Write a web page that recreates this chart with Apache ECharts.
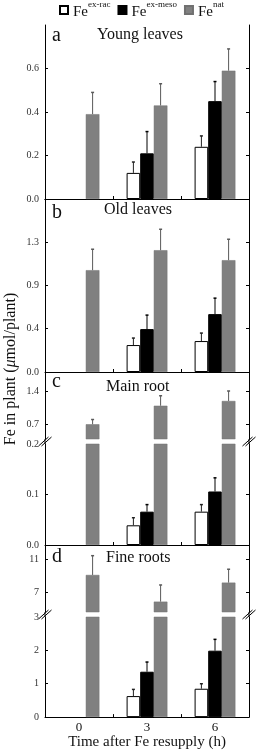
<!DOCTYPE html>
<html><head><meta charset="utf-8">
<script src="https://cdn.jsdelivr.net/npm/echarts@6/dist/echarts.min.js"></script>
<style>html,body{margin:0;padding:0;background:#fff}#c{width:257px;height:751px}</style>
</head><body><div id="c"></div>
<script>
// ---------- data ----------
const categories = ['0', '3', '6'];
const seriesNames = ['Fe ex-rac', 'Fe ex-meso', 'Fe nat'];
const superscripts = ['ex-rac', 'ex-meso', 'nat'];
const panelLetters = ['a', 'b', 'c', 'd'];
const panelTitles = ['Young leaves', 'Old leaves', 'Main root', 'Fine roots'];

// a: Young leaves
const aRac = [null, 0.12, 0.24];   const aRacErr = [null, 0.05, 0.05];
const aMeso = [null, 0.21, 0.45];  const aMesoErr = [null, 0.10, 0.09];
const aNat = [0.39, 0.43, 0.59];   const aNatErr = [0.10, 0.10, 0.10];
// b: Old leaves
const bRac = [null, 0.27, 0.31];   const bRacErr = [null, 0.07, 0.08];
const bMeso = [null, 0.43, 0.58];  const bMesoErr = [null, 0.14, 0.16];
const bNat = [1.02, 1.22, 1.12];   const bNatErr = [0.21, 0.21, 0.21];
// c: Main root
const cRac = [null, 0.039, 0.066]; const cRacErr = [null, 0.015, 0.014];
const cMeso = [null, 0.066, 0.106];const cMesoErr = [null, 0.014, 0.027];
const cNat = [0.70, 1.09, 1.19];   const cNatErr = [0.10, 0.21, 0.21];
// d: Fine roots
const dRac = [null, 0.63, 0.85];   const dRacErr = [null, 0.20, 0.15];
const dMeso = [null, 1.36, 1.99];  const dMesoErr = [null, 0.29, 0.34];
const dNat = [9.1, 5.93, 8.19];    const dNatErr = [2.29, 1.98, 1.59];

// tick labels
const aTicks = [0, 0.2, 0.4, 0.6];
const bTicks = [0, 1.3 / 3, 2.6 / 3, 1.3];
const cUpperTicks = [0.7, 1.4];
const cLowerTicks = [0, 0.1, 0.2];
const dUpperTicks = [7, 11];
const dLowerTicks = [0, 1, 2, 3];

// ---------- layout ----------
const FONT = 'Liberation Serif';
const L = 45, R = 8;
const segs = [
  {top: 25,  height: 174, min: 0,    max: 0.8,    labels: aTicks, ticks: aTicks, dec: 1, vals: [aRac, aMeso, aNat], errs: [aRacErr, aMesoErr, aNatErr], bottom: true},
  {top: 199, height: 173, min: 0,    max: 1.7333, labels: bTicks, ticks: bTicks, dec: 1, vals: [bRac, bMeso, bNat], errs: [bRacErr, bMesoErr, bNatErr], bottom: true},
  {top: 372, height: 67,  min: 0.39, max: 1.8,    labels: cUpperTicks, ticks: cUpperTicks, dec: 1, vals: [cRac, cMeso, cNat], errs: [cRacErr, cMesoErr, cNatErr], bottom: false},
  {top: 444, height: 101, min: 0,    max: 0.2,    labels: cLowerTicks, ticks: [0, 0.1], dec: 1, vals: [cRac, cMeso, cNat], errs: [cRacErr, cMesoErr, cNatErr], bottom: true},
  {top: 545, height: 67,  min: 4.7,  max: 12.66,  labels: dUpperTicks, ticks: dUpperTicks, dec: 0, vals: [dRac, dMeso, dNat], errs: [dRacErr, dMesoErr, dNatErr], bottom: false},
  {top: 617, height: 101, min: 0,    max: 3,      labels: dLowerTicks, ticks: [0, 1, 2], dec: 0, vals: [dRac, dMeso, dNat], errs: [dRacErr, dMesoErr, dNatErr], bottom: true, xLabels: true}
];
const barStyles = [
  {color: '#ffffff', borderColor: '#000', borderWidth: 1},
  {color: '#000000', borderColor: '#000', borderWidth: 1},
  {color: '#808080', borderColor: '#707070', borderWidth: 0.5}
];
const errColors = ['#222', '#000', '#5a5a5a'];

const grid = [], xAxis = [], yAxis = [], series = [];
segs.forEach((s, g) => {
  grid.push({left: L, right: R, top: s.top, height: s.height, containLabel: false});
  xAxis.push({
    type: 'category', gridIndex: g, data: categories, position: 'bottom',
    axisLine: {show: s.bottom, lineStyle: {color: '#000', width: 1}},
    axisTick: {show: s.bottom, inside: true, length: 3, lineStyle: {color: '#000'}},
    axisLabel: {show: !!s.xLabels, fontFamily: FONT, fontSize: 13, color: '#111', margin: 4},
    name: s.xLabels ? 'Time after Fe resupply (h)' : '',
    nameLocation: 'middle', nameGap: 17,
    nameTextStyle: {fontFamily: FONT, fontSize: 15, color: '#111'}
  });
  const common = {
    type: 'value', gridIndex: g, min: s.min, max: s.max,
    splitLine: {show: false},
    axisLine: {show: true, lineStyle: {color: '#000', width: 1}},
    axisTick: {show: true, inside: true, length: 3, customValues: s.ticks, lineStyle: {color: '#000'}}
  };
  yAxis.push(Object.assign({}, common, {
    position: 'left',
    axisLabel: {show: true, customValues: s.labels, fontFamily: FONT, fontSize: 10, color: '#333', margin: 6,
      formatter: v => Number(v).toFixed(s.dec)}
  }));
  yAxis.push(Object.assign({}, common, {position: 'right', axisLabel: {show: false}}));
  const yIdx = g * 2;
  s.vals.forEach((arr, k) => {
    series.push({
      type: 'bar', name: seriesNames[k], xAxisIndex: g, yAxisIndex: yIdx,
      data: arr.map(v => v == null ? '-' : v),
      barGap: '0%', barCategoryGap: '40%', clip: true,
      itemStyle: barStyles[k], emphasis: {disabled: true}, silent: true
    });
  });
  const errData = [];
  s.vals.forEach((arr, k) => arr.forEach((v, i) => {
    if (v != null && s.errs[k][i] != null) errData.push([i, k, v, s.errs[k][i]]);
  }));
  series.push({
    type: 'custom', xAxisIndex: g, yAxisIndex: yIdx, data: errData, clip: true, silent: true, z: 5,
    renderItem: (params, api) => {
      const ci = api.value(0), k = api.value(1), v = api.value(2), e = api.value(3);
      const base = api.coord([ci, v]), tip = api.coord([ci, v + e]);
      const band = api.size([1, 0])[0];
      const bw = band * 0.6 / 3;
      const x = base[0] + (k - 1) * bw;
      const cs = params.coordSys;
      const y1 = Math.min(base[1], cs.y + cs.height);
      const y2 = Math.max(tip[1], cs.y);
      if (y2 >= y1) return null;
      const children = [{type: 'line', shape: {x1: x, y1: y1, x2: x, y2: y2}, style: {stroke: errColors[k], lineWidth: 1}}];
      if (tip[1] >= cs.y) children.push({type: 'line', shape: {x1: x - 1.5, y1: tip[1], x2: x + 1.5, y2: tip[1]}, style: {stroke: errColors[k], lineWidth: 1.5}});
      return {type: 'group', children};
    }
  });
});
// top border of panel a
xAxis.push({type: 'category', gridIndex: 0, data: categories, position: 'top',
  axisLine: {show: true, lineStyle: {color: '#000'}}, axisTick: {show: false}, axisLabel: {show: false}});

// titles
const titles = [];
const letterTops = [26, 203, 372, 547];
const nameTops = [27, 202, 379, 550];
const nameLefts = [97, 104, 106, 106];
panelLetters.forEach((t, i) => {
  titles.push({text: t, left: 52, top: letterTops[i], padding: 0, textStyle: {fontFamily: FONT, fontSize: 20, fontWeight: 'normal', color: '#111'}});
  titles.push({text: panelTitles[i], left: nameLefts[i], top: nameTops[i], padding: 0, textStyle: {fontFamily: FONT, fontSize: 16, fontWeight: 'normal', color: '#111'}});
});

// break marks
const graphics = [];
[[439, 444], [612, 617]].forEach(([y1, y2]) => {
  const yc = (y1 + y2) / 2;
  [L, 257 - R].forEach(x => {
    graphics.push({type: 'line', shape: {x1: x, y1: y1, x2: x, y2: y2}, style: {stroke: '#000', lineWidth: 1}, z: 10});
    [-1.5, 1.5].forEach(dx => graphics.push({type: 'line', shape: {x1: x + dx - 5, y1: yc + 4.5, x2: x + dx + 5, y2: yc - 4.5}, style: {stroke: '#000', lineWidth: 1}, z: 10}));
  });
});
graphics.push({type: 'text', x: 11, y: 369, rotation: Math.PI / 2,
  style: {text: 'Fe in plant ({i|μ}mol/plant)', fontFamily: FONT, fontSize: 16, fill: '#111', align: 'center', verticalAlign: 'middle',
    rich: {i: {fontFamily: FONT, fontSize: 16, fontStyle: 'italic', fill: '#111'}}}, z: 10});

const chart = echarts.init(document.getElementById('c'), null, {renderer: 'canvas'});
chart.setOption({
  animation: false,
  backgroundColor: '#fff',
  title: titles,
  legend: {
    data: seriesNames, left: 59, top: 0, padding: 0, itemWidth: 8, itemHeight: 8, itemGap: 7, icon: 'rect',
    selectedMode: false,
    formatter: name => '{f|Fe}{s|' + superscripts[seriesNames.indexOf(name)] + '}',
    textStyle: {fontFamily: FONT, color: '#111',
      rich: {f: {fontFamily: FONT, fontSize: 15, lineHeight: 20, verticalAlign: 'bottom', color: '#111'},
             s: {fontFamily: FONT, fontSize: 9, lineHeight: 12, verticalAlign: 'top', color: '#111'}}}
  },
  grid, xAxis, yAxis, series, graphic: graphics
});
</script></body></html>
